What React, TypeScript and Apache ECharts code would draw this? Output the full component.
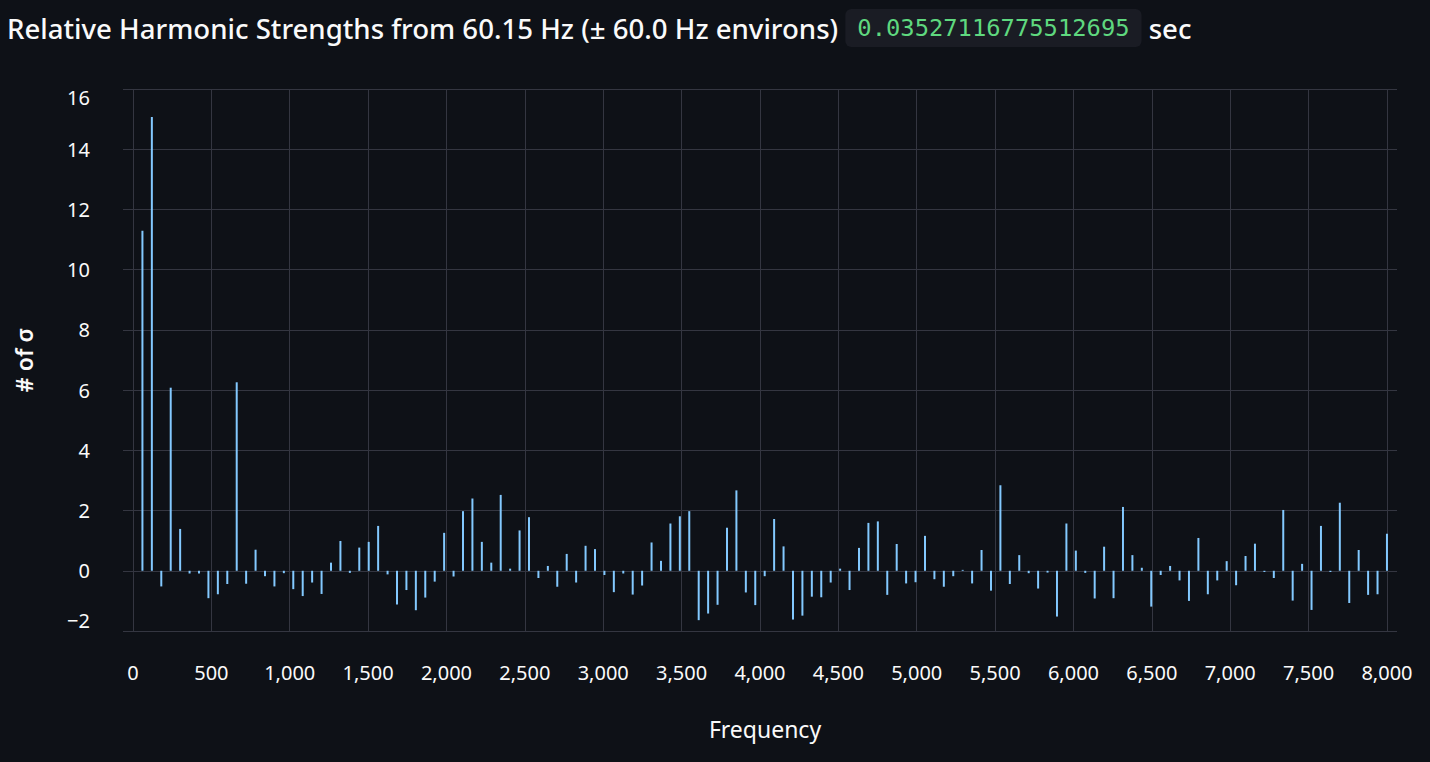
import React, { useEffect, useRef } from "react";
import * as echarts from "echarts";

// ---- data ----
const FUNDAMENTAL_HZ = 60.15;
const TITLE_TEXT = "Relative Harmonic Strengths from 60.15 Hz (\u00b1 60.0 Hz environs)";
const ELAPSED_TEXT = "0.03527116775512695";
const ELAPSED_UNIT = "sec";
const X_AXIS_TITLE = "Frequency";
const Y_AXIS_TITLE = "# of \u03c3";

// relative strength (# of sigma) of harmonics 1..133
const strengthsSigma = [
  11.29, 15.07, -0.52, 6.08, 1.39, -0.09, -0.09, -0.91, -0.78, -0.44,
  6.26, -0.43, 0.7, -0.18, -0.52, -0.08, -0.61, -0.84, -0.39, -0.77,
  0.27, 0.99, -0.07, 0.77, 0.96, 1.49, -0.12, -1.12, -0.64, -1.31,
  -0.89, -0.36, 1.26, -0.19, 1.98, 2.4, 0.96, 0.27, 2.52, 0.07,
  1.34, 1.78, -0.24, 0.16, -0.53, 0.56, -0.39, 0.83, 0.72, -0.14,
  -0.71, -0.09, -0.79, -0.49, 0.94, 0.33, 1.57, 1.81, 1.98, -1.64,
  -1.42, -1.13, 1.43, 2.67, -0.72, -1.14, -0.18, 1.72, 0.81, -1.62,
  -1.49, -0.86, -0.88, -0.39, 0.07, -0.64, 0.76, 1.59, 1.64, -0.8,
  0.89, -0.42, -0.38, 1.16, -0.28, -0.53, -0.18, 0.03, -0.42, 0.69,
  -0.66, 2.84, -0.44, 0.52, -0.08, -0.59, -0.06, -1.52, 1.57, 0.67,
  -0.07, -0.92, 0.8, -0.91, 2.12, 0.52, 0.1, -1.19, -0.14, 0.16,
  -0.32, -1.0, 1.09, -0.78, -0.32, 0.32, -0.48, 0.49, 0.9, -0.04,
  -0.24, 2.02, -0.99, 0.23, -1.3, 1.49, -0.04, 2.26, -1.07, 0.69,
  -0.8, -0.78, 1.23,
];

const Y_MIN = -2;
const Y_MAX = 16;
const Y_STEP = 2;
const X_MIN = 0;
const X_MAX = 8064;
const X_STEP = 500;

const BG = "#0e1117";
const GRID = "#343641";
const TEXT = "#fafafa";
const BAR = "#83c9ff";
const FONT = "'Noto Sans', 'Open Sans', sans-serif";
const MONO = "'DejaVu Sans Mono', 'Liberation Mono', monospace";

export default function App() {
  const ref = useRef<HTMLDivElement>(null);

  useEffect(() => {
    document.body.style.margin = "0";
    document.body.style.background = BG;
    if (!ref.current) return;
    const chart = echarts.init(ref.current, null, { renderer: "svg" });

    const points = strengthsSigma.map((v, i) => [(i + 1) * FUNDAMENTAL_HZ, v]);

    const fmtY = (v: number) => {
      const s = v < 0 ? "\u2212" + Math.abs(v) : String(v);
      if (v === Y_MAX) return "{top|" + s + "}";
      if (v === Y_MIN) return "{bot|" + s + "}";
      return "{n|" + s + "}";
    };

    chart.setOption({
      animation: false,
      backgroundColor: BG,
      textStyle: { fontFamily: FONT },
      title: {
        left: 7,
        top: 9,
        padding: 0,
        text:
          "{t|" + TITLE_TEXT + " }{c|" + ELAPSED_TEXT + "}{t| " + ELAPSED_UNIT + "}",
        textStyle: {
          fontWeight: "normal",
          rich: {
            t: {
              fontFamily: FONT,
              fontSize: 27.6,
              fontWeight: 500,
              color: TEXT,
            },
            c: {
              fontFamily: MONO,
              fontSize: 23.8,
              fontWeight: "normal",
              color: "#5fd87f",
              backgroundColor: "#1a1c24",
              borderRadius: 6,
              padding: [7, 12, 7, 12],
            },
          },
        },
      },
      grid: {
        left: 133,
        right: 33,
        top: 89,
        bottom: 131,
        containLabel: false,
        outerBoundsMode: "none",
      },
      xAxis: {
        type: "value",
        min: X_MIN,
        max: X_MAX,
        interval: X_STEP,
        name: X_AXIS_TITLE,
        nameLocation: "middle",
        nameGap: 86,
        nameTextStyle: { color: TEXT, fontSize: 23, fontFamily: FONT },
        axisLine: { show: false },
        axisTick: { show: false },
        axisLabel: {
          color: TEXT,
          fontSize: 20,
          fontFamily: FONT,
          margin: 31,
          showMaxLabel: false,
          formatter: (v: number) => v.toLocaleString("en-US"),
        },
        splitLine: {
          show: true,
          showMinLine: true,
          showMaxLine: false,
          lineStyle: { color: GRID, width: 1 },
        },
      },
      yAxis: {
        type: "value",
        min: Y_MIN,
        max: Y_MAX,
        interval: Y_STEP,
        name: Y_AXIS_TITLE,
        nameLocation: "middle",
        nameGap: 98,
        nameTextStyle: { color: TEXT, fontSize: 23, fontFamily: FONT, fontWeight: 600 },
        axisLine: { show: false },
        axisTick: { show: true, length: 10, lineStyle: { color: GRID } },
        axisLabel: {
          color: TEXT,
          fontSize: 20,
          fontFamily: FONT,
          margin: 43,
          formatter: fmtY,
          rich: {
            n: { fontSize: 20, color: TEXT, fontFamily: FONT },
            top: { fontSize: 20, color: TEXT, fontFamily: FONT, padding: [16, 0, 0, 0] },
            bot: { fontSize: 20, color: TEXT, fontFamily: FONT, padding: [0, 0, 22, 0] },
          },
        },
        splitLine: {
          show: true,
          showMinLine: true,
          showMaxLine: true,
          lineStyle: { color: GRID, width: 1 },
        },
      },
      series: [
        {
          type: "bar",
          data: points,
          barWidth: 2,
          itemStyle: { color: BAR },
          silent: true,
        },
      ],
    });

    return () => chart.dispose();
  }, []);

  return <div ref={ref} style={{ width: 1430, height: 762 }} />;
}
